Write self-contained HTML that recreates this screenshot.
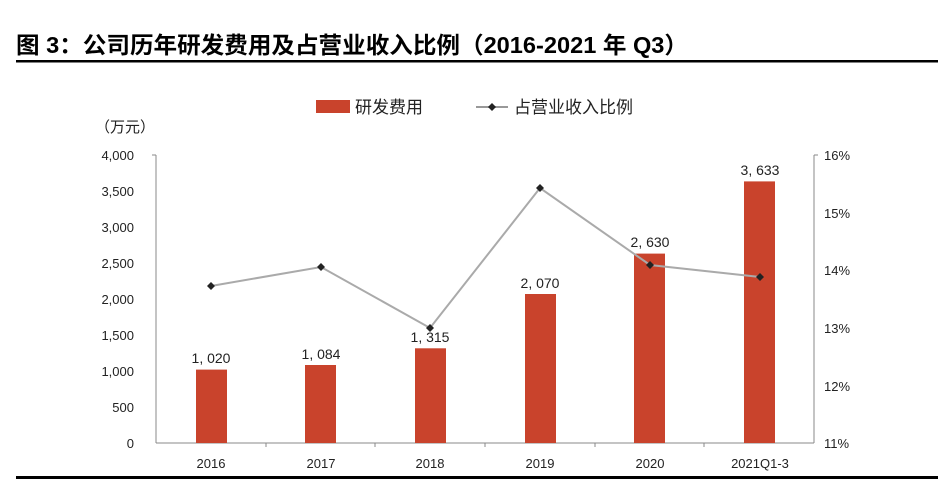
<!DOCTYPE html>
<html><head><meta charset="utf-8"><style>
body{margin:0;background:#fff;width:944px;height:479px;overflow:hidden;font-family:"Liberation Sans","Noto Sans CJK SC",sans-serif}
</style></head><body>
<svg width="944" height="479" xmlns="http://www.w3.org/2000/svg" font-family="Liberation Sans, Noto Sans CJK SC, sans-serif">
<text x="16" y="53" font-size="23" font-weight="bold" fill="#000" textLength="672" lengthAdjust="spacingAndGlyphs">图 3：公司历年研发费用及占营业收入比例（2016-2021 年 Q3）</text>
<rect x="16" y="60" width="922" height="2.5" fill="#000"/>
<rect x="16" y="476" width="922" height="3" fill="#000"/>
<rect x="316" y="100" width="34" height="13" fill="#c9432c"/>
<text x="355" y="113" font-size="17" fill="#222">研发费用</text>
<line x1="476" y1="107" x2="508" y2="107" stroke="#999" stroke-width="2"/>
<path d="M492 103 L496 107 L492 111 L488 107Z" fill="#222"/>
<text x="514" y="113" font-size="17" fill="#222">占营业收入比例</text>
<text x="95" y="132" font-size="15" fill="#222">（万元）</text>
<g font-size="13" fill="#222" text-anchor="end">
<text x="134" y="160">4,000</text><text x="134" y="196">3,500</text><text x="134" y="232">3,000</text><text x="134" y="268">2,500</text><text x="134" y="304">2,000</text><text x="134" y="340">1,500</text><text x="134" y="376">1,000</text><text x="134" y="412">500</text><text x="134" y="448">0</text>
</g>
<g font-size="13" fill="#222">
<text x="824" y="160">16%</text><text x="824" y="218">15%</text><text x="824" y="275">14%</text><text x="824" y="333">13%</text><text x="824" y="391">12%</text><text x="824" y="448">11%</text>
</g>
<g stroke="#888" stroke-width="1">
<line x1="156" y1="155" x2="156" y2="443"/>
<line x1="814" y1="155" x2="814" y2="443"/>
<line x1="156" y1="443" x2="814" y2="443"/>
<line x1="152" y1="155" x2="156" y2="155"/>
<line x1="814" y1="155" x2="818" y2="155"/>
<line x1="266" y1="443" x2="266" y2="447"/><line x1="375" y1="443" x2="375" y2="447"/><line x1="485" y1="443" x2="485" y2="447"/><line x1="595" y1="443" x2="595" y2="447"/><line x1="704" y1="443" x2="704" y2="447"/>
</g>
<g fill="#c9432c">
<rect x="196" y="369.6" width="31" height="73.4"/>
<rect x="305" y="365" width="31" height="78"/>
<rect x="415" y="348.3" width="31" height="94.7"/>
<rect x="525" y="294" width="31" height="149"/>
<rect x="634" y="253.6" width="31" height="189.4"/>
<rect x="744" y="181.4" width="31" height="261.6"/>
</g>
<g font-size="14" fill="#222" text-anchor="middle">
<text x="211" y="363">1, 020</text><text x="321" y="359">1, 084</text><text x="430" y="342">1, 315</text><text x="540" y="288">2, 070</text><text x="650" y="247">2, 630</text><text x="760" y="175">3, 633</text>
</g>
<polyline points="211,286 321,267 430,328 540,188 650,265 760,277" fill="none" stroke="#aaa" stroke-width="2"/>
<g fill="#222">
<path d="M211 282 L215 286 L211 290 L207 286Z"/><path d="M321 263 L325 267 L321 271 L317 267Z"/><path d="M430 324 L434 328 L430 332 L426 328Z"/><path d="M540 184 L544 188 L540 192 L536 188Z"/><path d="M650 261 L654 265 L650 269 L646 265Z"/><path d="M760 273 L764 277 L760 281 L756 277Z"/>
</g>
<g font-size="13" fill="#222" text-anchor="middle">
<text x="211" y="468">2016</text><text x="321" y="468">2017</text><text x="430" y="468">2018</text><text x="540" y="468">2019</text><text x="650" y="468">2020</text><text x="760" y="468">2021Q1-3</text>
</g>
</svg>
</body></html>
